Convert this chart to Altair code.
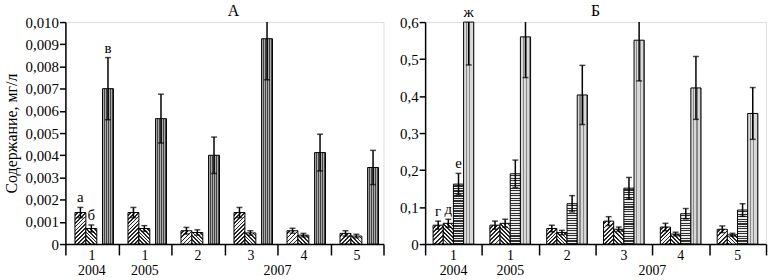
import math
import altair as alt

groups = ["g1", "g2", "g3", "g4", "g5", "g6"]
group_labels = ["1", "1", "2", "3", "4", "5"]
years = ["2004", "2005", "2007"]
year_span = [(0, 0), (1, 1), (2, 5)]

# Panel A
a_series = ["а", "б", "в"]
a_vals = [
    [0.00142, 0.00142, 0.00060, 0.00142, 0.00060, 0.00048],
    [0.00070, 0.00070, 0.00052, 0.00050, 0.00040, 0.00036],
    [0.00700, 0.00565, 0.00400, 0.00925, 0.00412, 0.00345],
]
a_errs = [
    [0.00023, 0.00023, 0.00015, 0.00023, 0.00011, 0.00012],
    [0.00016, 0.00013, 0.00012, 0.00010, 0.00008, 0.00008],
    [0.00140, 0.00110, 0.00082, 0.00185, 0.00083, 0.00077],
]

# Panel B
b_series = ["г", "д", "е", "ж"]
b_vals = [
    [0.051, 0.051, 0.042, 0.062, 0.046, 0.040],
    [0.056, 0.056, 0.031, 0.040, 0.027, 0.025],
    [0.162, 0.190, 0.109, 0.151, 0.082, 0.092],
    [0.600, 0.560, 0.403, 0.551, 0.422, 0.353],
]
b_errs = [
    [0.011, 0.011, 0.009, 0.012, 0.010, 0.009],
    [0.011, 0.011, 0.006, 0.006, 0.005, 0.004],
    [0.029, 0.037, 0.022, 0.029, 0.014, 0.017],
    [0.116, 0.110, 0.080, 0.110, 0.085, 0.070],
]

# layout of the bars inside one group (fractions of the group width)
A_SLOTS = [(0.18, 0.386), (0.386, 0.592), (0.70, 0.906)]
B_SLOTS = [(0.14, 0.319), (0.319, 0.498), (0.498, 0.677), (0.677, 0.856)]

# hatch style per series: (kind, dark, light, period_px, dark_fraction)
A_HATCH = [("/", "#262626", "#f4f4f4", 2.8, 0.45),
           ("\\", "#262626", "#f4f4f4", 2.8, 0.45),
           ("|", "#444444", "#ababab", 2.2, 0.5)]
B_HATCH = [("/", "#262626", "#f4f4f4", 2.8, 0.45),
           ("\\", "#262626", "#f4f4f4", 2.8, 0.45),
           ("-", "#303030", "#ececec", 2.5, 0.5),
           ("|", "#8a8a8a", "#d8d8d8", 3.4, 0.35)]

FONT = "Liberation Serif, Times New Roman, DejaVu Serif, serif"
H = 224


def stop_list(dark, light, n, frac):
    stops = []
    for i in range(n):
        s, m, e = i / n, (i + 1 - frac) / n, (i + 1) / n
        stops += [{"offset": s, "color": light}, {"offset": m, "color": light},
                  {"offset": m, "color": dark}, {"offset": e, "color": dark}]
    return stops


def hatch(kind, dark, light, period, frac, w, h):
    h = max(h, 1.0)
    if kind == "|":
        n = max(2, int(round(w / period)))
        g = dict(x1=0, y1=0, x2=1, y2=0)
    elif kind == "-":
        n = max(2, int(round(h / period)))
        g = dict(x1=0, y1=0, x2=0, y2=1)
    else:
        t = (1 / h + 1 / w) / (1 / h ** 2 + 1 / w ** 2)
        n = max(2, int(round((w + h) / math.sqrt(2) / period)))
        if kind == "/":
            g = dict(x1=0, y1=0, x2=t / h, y2=t / w)
        else:
            g = dict(x1=1, y1=0, x2=1 - t / h, y2=t / w)
    g["gradient"] = "linear"
    g["stops"] = stop_list(dark, light, n, frac)
    return g


def panel(series, vals, errs, slots, hatches, ymax, tick_step, fmt, title, title_dx,
          width, ytitle):
    ng = len(groups)
    gw = width / ng
    rows = []
    for s, vv, ee, (s0, s1), hs in zip(series, vals, errs, slots, hatches):
        for i, (g, v, e) in enumerate(zip(groups, vv, ee)):
            rows.append(dict(grp=g, ser=s, x0=i + s0, x1=i + s1, xc=i + (s0 + s1) / 2,
                             val=v, zero=0.0, lo=v - e, hi=v + e,
                             hic=min(v + e, ymax), cap=(v + e) <= ymax,
                             grad=hatch(*hs, (s1 - s0) * gw, v / ymax * H)))
    data = alt.InlineData(values=rows)

    x_axis = alt.Axis(values=list(range(ng + 1)), labels=False, title=None, grid=False,
                      tickSize=11, domainColor="black", tickColor="black",
                      domainWidth=1.5, tickWidth=1.5)
    xs = alt.Scale(domain=[0, ng], nice=False, zero=False)
    nt = int(round(ymax / tick_step))
    ticks = [round(i * tick_step, 6) for i in range(nt + 1)]
    y_axis = alt.Axis(values=ticks,
                      labelExpr=f"datum.value == 0 ? '0' : replace(format(datum.value, '{fmt}'), '.', ',')",
                      title=ytitle if ytitle else None, titleFont=FONT, titleFontSize=16,
                      titleFontWeight="normal", titleColor="black", titlePadding=6,
                      labelFont=FONT, labelFontSize=15, labelColor="black", tickSize=6,
                      labelPadding=1, labelOverlap=False, labelBound=False,
                      domainColor="black", tickColor="black",
                      domainWidth=1.5, tickWidth=1.5, grid=False)
    ys = alt.Scale(domain=[0, ymax], nice=False, zero=True)

    def X(f):
        return alt.X(f, scale=xs, axis=x_axis)

    def Y(f):
        return alt.Y(f, scale=ys, axis=y_axis)

    base = alt.Chart(data)
    bars = base.mark_bar(stroke="black", strokeWidth=1).encode(
        x=X("x0:Q"), x2="x1:Q", y=Y("val:Q"), y2="zero:Q",
        fill=alt.Fill("grad:N", scale=None),
    )
    rule = base.mark_rule(strokeWidth=1.5, color="black").encode(
        x=X("xc:Q"), y=Y("lo:Q"), y2="hic:Q")
    cap_hi = base.transform_filter(alt.datum.cap).mark_tick(
        orient="horizontal", thickness=1.5, size=6, color="black").encode(
        x=X("xc:Q"), y=Y("hi:Q"))
    cap_lo = base.mark_tick(orient="horizontal", thickness=1.5, size=6, color="black").encode(
        x=X("xc:Q"), y=Y("lo:Q"))
    letters = base.transform_filter(alt.datum.grp == "g1").mark_text(
        baseline="bottom", dy=-2, font=FONT, fontSize=15, color="black").encode(
        x=X("xc:Q"), y=Y("hic:Q"), text="ser:N")

    gdata = alt.InlineData(values=[{"gx": i + 0.5, "lab": l} for i, l in enumerate(group_labels)])
    glabels = alt.Chart(gdata).mark_text(baseline="middle", font=FONT, fontSize=14,
                                         color="black").encode(
        x=X("gx:Q"), y=alt.value(H + 12), text="lab:N")
    ydata = alt.InlineData(values=[{"yx": (a + b + 1) / 2, "yr": y}
                                   for (a, b), y in zip(year_span, years)])
    ylabels = alt.Chart(ydata).mark_text(baseline="middle", font=FONT, fontSize=14,
                                         color="black").encode(
        x=X("yx:Q"), y=alt.value(H + 27), text="yr:N")
    tdata = alt.InlineData(values=[{"tx": ng / 2, "ty": ymax, "t": title}])
    tlabel = alt.Chart(tdata).mark_text(baseline="bottom", dy=-3, dx=title_dx, font=FONT,
                                        fontSize=16, color="black").encode(
        x=X("tx:Q"), y=Y("ty:Q"), text="t:N")

    return alt.layer(bars, rule, cap_hi, cap_lo, letters, glabels, ylabels, tlabel).properties(
        width=width, height=H)


pa = panel(a_series, a_vals, a_errs, A_SLOTS, A_HATCH, 0.010, 0.001, ".3f", "А", 9,
           321, "Содержание, мг/л")
pb = panel(b_series, b_vals, b_errs, B_SLOTS, B_HATCH, 0.6, 0.1, ".1f", "Б", 0,
           344, None)

chart = alt.hconcat(pa, pb, spacing=13).properties(
    padding={"left": 2, "top": 1, "right": 0, "bottom": 0}
).configure_view(stroke=None).configure(background="white")

chart.save("out.html", embed_options={"renderer": "svg", "actions": False})
